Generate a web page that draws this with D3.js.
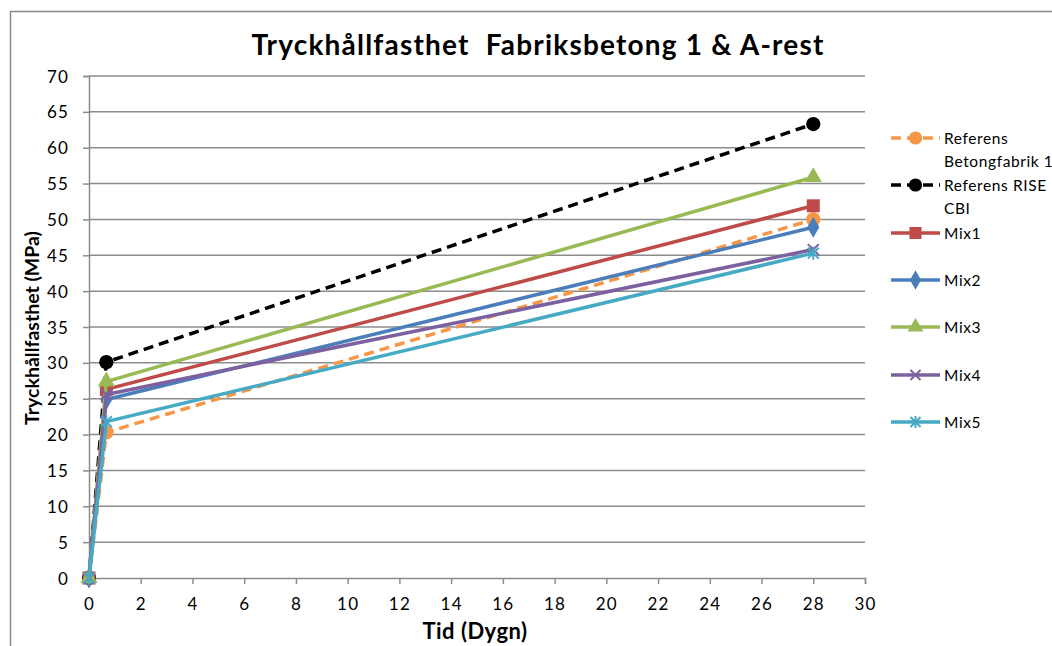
<!DOCTYPE html>
<html>
<head>
<meta charset="utf-8">
<script src="https://cdn.jsdelivr.net/npm/d3@7"></script>
<style>
  html, body { margin: 0; padding: 0; background: #fff; }
  svg { display: block; font-family: Lato, "Open Sans", sans-serif; }
</style>
</head>
<body>
<div id="chart"></div>
<script>
// tidpunkter (dygn)
const days = [0, 0.67, 28];

const seriesNames = ['Referens Betongfabrik 1', 'Referens RISE CBI', 'Mix1', 'Mix2', 'Mix3', 'Mix4', 'Mix5'];
const legendLines = [['Referens', 'Betongfabrik 1'], ['Referens RISE', 'CBI'], ['Mix1'], ['Mix2'], ['Mix3'], ['Mix4'], ['Mix5']];

const refFabrik = [0, 20.3, 50.0];
const refRise   = [0, 30.1, 63.3];
const mix1      = [0, 26.3, 51.9];
const mix2      = [0, 24.9, 48.9];
const mix3      = [0, 27.4, 55.9];
const mix4      = [0, 25.6, 45.8];
const mix5      = [0, 21.8, 45.3];

const xTicks = d3.range(0, 31, 2);
const yTicks = d3.range(0, 71, 5);

const colors  = ['#f79646', '#000000', '#be4b48', '#4a7ebb', '#98b954', '#7d60a0', '#46aac5'];
const markers = ['circle', 'circle', 'square', 'diamond', 'triangle', 'x', 'star'];
const dashed  = [true, true, false, false, false, false, false];
const values  = [refFabrik, refRise, mix1, mix2, mix3, mix4, mix5];

const W = 1052, H = 646;
const plot = { left: 89, right: 865, top: 76, bottom: 578 };

const svg = d3.select('#chart').append('svg')
  .attr('width', W).attr('height', H);

// yttre ram
svg.append('path')
  .attr('d', `M10.5,${H} V11.5 H${W}`)
  .attr('fill', 'none').attr('stroke', '#8a8a8a').attr('stroke-width', 1.5);

const x = d3.scaleLinear().domain([0, 30]).range([plot.left, plot.right]);
const y = d3.scaleLinear().domain([0, 70]).range([plot.bottom, plot.top]);

// stödlinjer
svg.append('g')
  .selectAll('line')
  .data(yTicks.filter(d => d > 0))
  .enter().append('line')
  .attr('x1', plot.left).attr('x2', plot.right)
  .attr('y1', d => y(d)).attr('y2', d => y(d))
  .attr('stroke', '#8c8c8c').attr('stroke-width', 1.5);

const yAxis = svg.append('g')
  .attr('transform', `translate(${plot.left},0)`)
  .call(d3.axisLeft(y).tickValues(yTicks).tickSize(6).tickPadding(14));
const xAxis = svg.append('g')
  .attr('transform', `translate(0,${plot.bottom})`)
  .call(d3.axisBottom(x).tickValues(xTicks).tickSize(6).tickPadding(14));

[yAxis, xAxis].forEach(a => {
  a.select('.domain').attr('stroke', '#8c8c8c').attr('stroke-width', 1.5);
  a.selectAll('.tick line').attr('stroke', '#8c8c8c').attr('stroke-width', 1.5);
  a.selectAll('.tick text')
    .attr('fill', '#000')
    .style('font-family', 'Lato, sans-serif')
    .style('font-size', '17px')
    .style('letter-spacing', '1.2px');
});
yAxis.selectAll('.tick text').attr('dy', '0.36em');

// titlar
svg.append('text')
  .attr('x', 538).attr('y', 55)
  .attr('text-anchor', 'middle')
  .style('font-size', '28px').style('font-weight', 'bold')
  .style('letter-spacing', '1.2px')
  .style('white-space', 'pre')
  .text('Tryckhållfasthet  Fabriksbetong 1 & A-rest');

svg.append('text')
  .attr('x', 475).attr('y', 639)
  .attr('text-anchor', 'middle')
  .style('font-size', '22px').style('font-weight', 'bold')
  .style('letter-spacing', '0.5px')
  .text('Tid (Dygn)');

svg.append('text')
  .attr('transform', 'translate(39,328) rotate(-90)')
  .attr('text-anchor', 'middle')
  .style('font-size', '19.5px').style('font-weight', 'bold')
  .text('Tryckhållfasthet (MPa)');

function drawMarker(g, type, color, size) {
  const s = size;
  if (type === 'circle') {
    g.append('circle').attr('r', s * 0.55).attr('fill', color);
  } else if (type === 'square') {
    g.append('rect').attr('x', -s / 2).attr('y', -s / 2).attr('width', s).attr('height', s)
      .attr('fill', color);
  } else if (type === 'diamond') {
    g.append('path').attr('d', d3.symbol(d3.symbolDiamond, s * s * 0.75)()).attr('fill', color);
  } else if (type === 'triangle') {
    g.append('path').attr('d', d3.symbol(d3.symbolTriangle, s * s * 0.75)()).attr('fill', color);
  } else if (type === 'x') {
    const r = s * 0.42;
    g.append('path').attr('d', `M${-r},${-r}L${r},${r}M${-r},${r}L${r},${-r}`)
      .attr('stroke', color).attr('stroke-width', 2);
  } else if (type === 'star') {
    const r = s * 0.42;
    g.append('path').attr('d', `M${-r},${-r}L${r},${r}M${-r},${r}L${r},${-r}M0,${-r * 1.2}V${r * 1.2}`)
      .attr('stroke', color).attr('stroke-width', 2);
  }
}

const line = d3.line().x(d => x(d[0])).y(d => y(d[1]));

values.forEach((vals, i) => {
  const pts = days.map((d, j) => [d, vals[j]]);
  svg.append('path')
    .datum(pts)
    .attr('d', line)
    .attr('fill', 'none')
    .attr('stroke', colors[i])
    .attr('stroke-width', 3.5)
    .attr('stroke-dasharray', dashed[i] ? '10,6' : null);
  pts.forEach(p => {
    const g = svg.append('g').attr('transform', `translate(${x(p[0])},${y(p[1])})`);
    drawMarker(g, markers[i], colors[i], 13);
  });
});

// förklaring
const legend = svg.append('g');
const legY = [138, 185, 233, 280, 327, 375, 422];
seriesNames.forEach((name, i) => {
  const g = legend.append('g').attr('transform', `translate(0,${legY[i]})`);
  g.append('line')
    .attr('x1', 891).attr('x2', 940)
    .attr('stroke', colors[i]).attr('stroke-width', 3.5)
    .attr('stroke-dasharray', dashed[i] ? '10,6' : null);
  const m = g.append('g').attr('transform', 'translate(915.5,0)');
  drawMarker(m, markers[i], colors[i], 12);
  const t = g.append('text')
    .attr('x', 944).attr('y', 5.5)
    .style('font-size', '15.5px')
    .style('letter-spacing', '0.6px');
  legendLines[i].forEach((ln, k) => {
    t.append('tspan').attr('x', 944).attr('dy', k === 0 ? 0 : 23).text(ln);
  });
});
</script>
</body>
</html>
